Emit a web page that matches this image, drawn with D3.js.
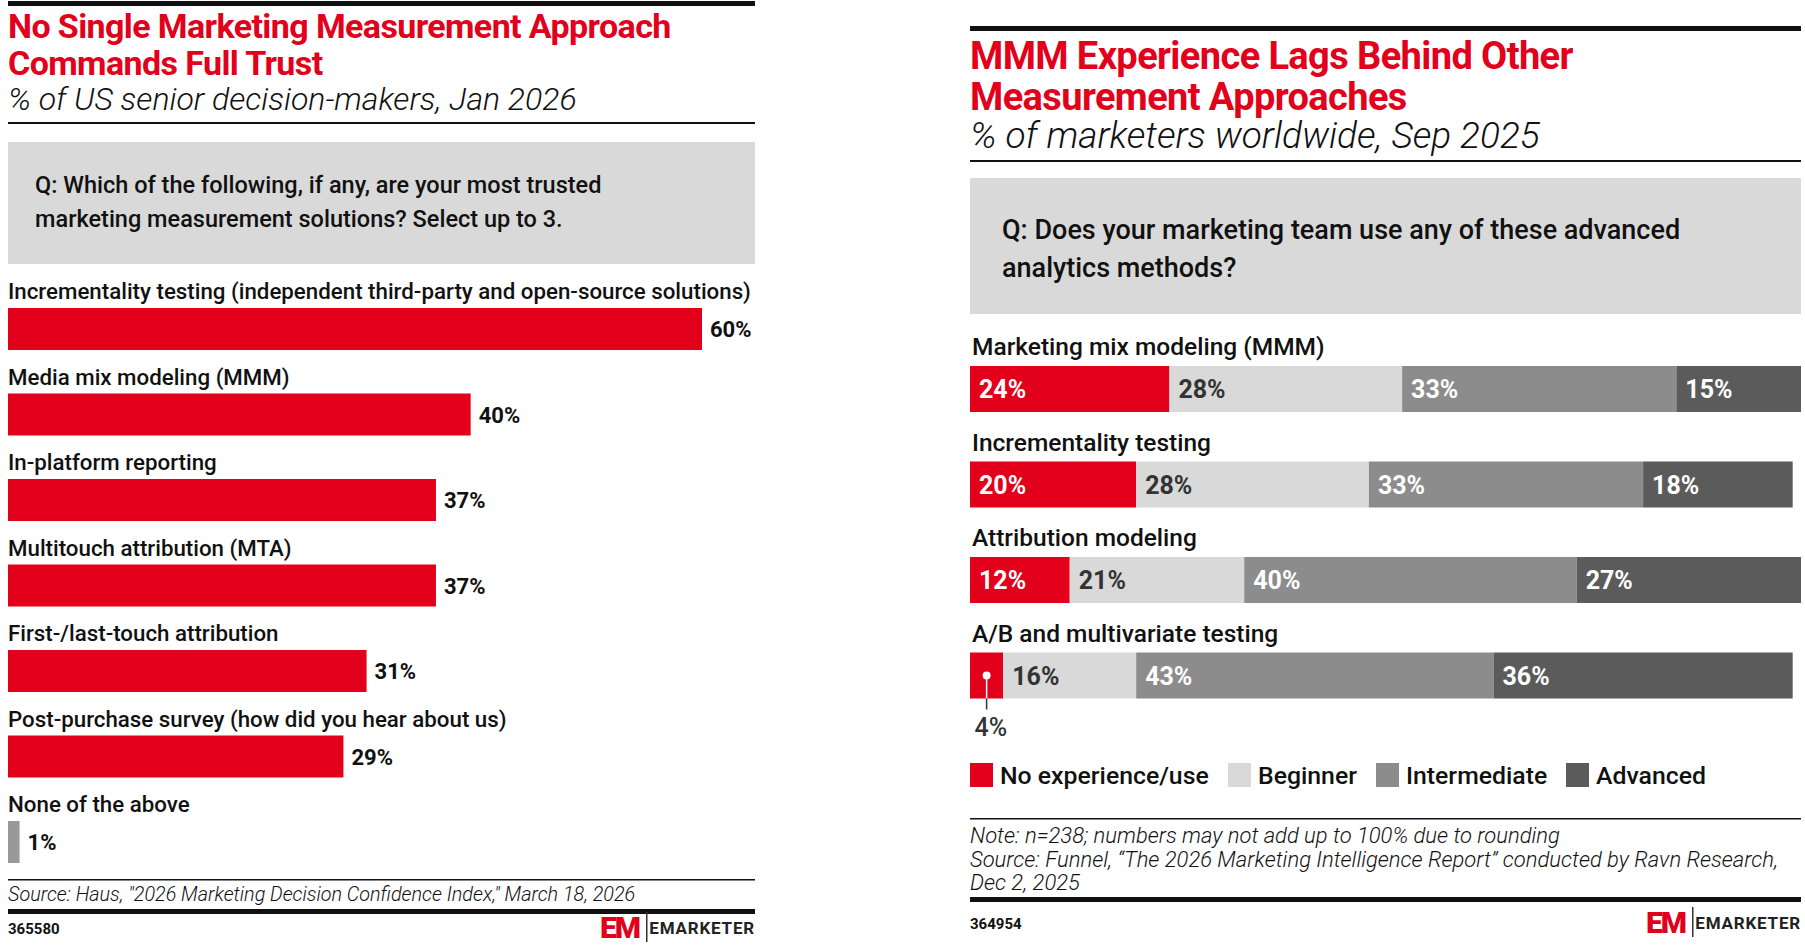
<!DOCTYPE html>
<html>
<head>
<meta charset="utf-8">
<script src="https://cdn.jsdelivr.net/npm/d3@7"></script>
<style>
  body { margin: 0; background: #fff; }
  text { font-family: Roboto, "Noto Sans", sans-serif; }
</style>
</head>
<body>
<svg id="chart" width="1805" height="947"></svg>
<script>
// left chart: most trusted measurement solutions
const trustCategories = [
  "Incrementality testing (independent third-party and open-source solutions)",
  "Media mix modeling (MMM)",
  "In-platform reporting",
  "Multitouch attribution (MTA)",
  "First-/last-touch attribution",
  "Post-purchase survey (how did you hear about us)",
  "None of the above"
]
const trustValues = [60, 40, 37, 37, 31, 29, 1]

// right chart: experience with advanced analytics methods
const methods = [
  "Marketing mix modeling (MMM)",
  "Incrementality testing",
  "Attribution modeling",
  "A/B and multivariate testing"
]
const levels = ["No experience/use", "Beginner", "Intermediate", "Advanced"]
const noExperience = [24, 20, 12, 4]
const beginner = [28, 28, 21, 16]
const intermediate = [33, 33, 40, 43]
const advanced = [15, 18, 27, 36]

var RED = "#e2001a"
var levelColors = ["#e2001a", "#d9d9d9", "#8c8c8c", "#5b5b5b"]
var levelText = ["#fff", "#333", "#fff", "#fff"]

var svg = d3.select("#chart")

// shared bits of the emarketer frame
function header(g, x0, x1, top, titleLines, titleSize, titleY, subtitle, subSize, subY) {
  g.append("rect").attr("x", x0).attr("y", top).attr("width", x1 - x0).attr("height", 5).attr("fill", "#111")
  titleLines.forEach(function(t, i) {
    g.append("text").attr("x", x0).attr("y", titleY[i])
      .attr("fill", RED).attr("font-size", titleSize).attr("font-weight", 700)
      .attr("letter-spacing", -0.6).text(t)
  })
  g.append("text").attr("x", x0).attr("y", subY)
    .attr("font-size", subSize).attr("font-style", "italic").attr("font-weight", 300)
    .attr("fill", "#111").text(subtitle)
}

function logo(g, xRight, y, id) {
  g.append("text").attr("x", xRight - 116).attr("y", y).attr("text-anchor", "end")
    .attr("font-size", 30).attr("font-weight", 900).attr("fill", RED).attr("letter-spacing", -2)
    .text("EM")
  g.append("rect").attr("x", xRight - 109).attr("y", y - 26).attr("width", 1.5).attr("height", 30).attr("fill", "#333")
  g.append("text").attr("x", xRight).attr("y", y - 4).attr("text-anchor", "end")
    .attr("font-size", 17).attr("font-weight", 700).attr("fill", "#222").attr("letter-spacing", 0.8)
    .text("EMARKETER")
  g.append("text").attr("x", id.x).attr("y", y - 4)
    .attr("font-size", 15).attr("font-weight", 700).attr("fill", "#111").text(id.text)
}

// ---------- left chart ----------
var left = svg.append("g")
var L0 = 8, L1 = 755

header(left, L0, L1, 1, ["No Single Marketing Measurement Approach", "Commands Full Trust"], 34, [38, 75],
  "% of US senior decision-makers, Jan 2026", 32, 110)
left.append("rect").attr("x", L0).attr("y", 122).attr("width", L1 - L0).attr("height", 2).attr("fill", "#111")
left.append("rect").attr("x", L0).attr("y", 142).attr("width", L1 - L0).attr("height", 122).attr("fill", "#d9d9d9")
left.append("text").attr("x", 35).attr("y", 193).attr("font-size", 23.5).attr("font-weight", 500).attr("fill", "#111")
  .text("Q: Which of the following, if any, are your most trusted")
left.append("text").attr("x", 35).attr("y", 227).attr("font-size", 23.5).attr("font-weight", 500).attr("fill", "#111")
  .text("marketing measurement solutions? Select up to 3.")

var xL = d3.scaleLinear().domain([0, 60]).range([L0, 702])
var yL = d3.scaleBand().domain(trustCategories).range([278, 278 + 7 * 85.5])

var rowsL = left.selectAll(".rowL").data(trustCategories).join("g").attr("class", "rowL")
rowsL.append("text").attr("x", L0).attr("y", function(d) { return yL(d) + 21 })
  .attr("font-size", 22.3).attr("font-weight", 500).attr("fill", "#111").text(function(d) { return d })
rowsL.append("rect").attr("x", xL(0)).attr("y", function(d) { return yL(d) + 30 })
  .attr("height", 42)
  .attr("width", function(d, i) { return xL(trustValues[i]) - xL(0) })
  .attr("fill", function(d, i) { return d == "None of the above" ? "#999" : RED })
rowsL.append("text").attr("x", function(d, i) { return xL(trustValues[i]) + 8 })
  .attr("y", function(d) { return yL(d) + 59 })
  .attr("font-size", 22).attr("font-weight", 700).attr("fill", "#111")
  .text(function(d, i) { return trustValues[i] + "%" })

left.append("rect").attr("x", L0).attr("y", 879).attr("width", L1 - L0).attr("height", 1.5).attr("fill", "#111")
left.append("text").attr("x", L0).attr("y", 901).attr("font-size", 19.8).attr("font-style", "italic").attr("font-weight", 300)
  .attr("fill", "#111").text("Source: Haus, \"2026 Marketing Decision Confidence Index,\" March 18, 2026")
left.append("rect").attr("x", L0).attr("y", 909).attr("width", L1 - L0).attr("height", 5).attr("fill", "#111")
logo(left, L1, 938, { x: L0, text: "365580" })

// ---------- right chart ----------
var right = svg.append("g")
var R0 = 970, R1 = 1801

header(right, R0, R1, 26, ["MMM Experience Lags Behind Other", "Measurement Approaches"], 38, [69, 110],
  "% of marketers worldwide, Sep 2025", 37, 148)
right.append("rect").attr("x", R0).attr("y", 160).attr("width", R1 - R0).attr("height", 2).attr("fill", "#111")
right.append("rect").attr("x", R0).attr("y", 178).attr("width", R1 - R0).attr("height", 136).attr("fill", "#d9d9d9")
right.append("text").attr("x", 1002).attr("y", 239).attr("font-size", 27).attr("font-weight", 500).attr("fill", "#111")
  .text("Q: Does your marketing team use any of these advanced")
right.append("text").attr("x", 1002).attr("y", 277).attr("font-size", 27).attr("font-weight", 500).attr("fill", "#111")
  .text("analytics methods?")

var table = methods.map(function(m, i) {
  return { method: m, "No experience/use": noExperience[i], "Beginner": beginner[i],
    "Intermediate": intermediate[i], "Advanced": advanced[i] }
})
var series = d3.stack().keys(levels)(table)

var xR = d3.scaleLinear().domain([0, 100]).range([R0, R1])
var yR = d3.scaleBand().domain(methods).range([334, 334 + 4 * 95.5])

right.selectAll(".mlabel").data(methods).join("text").attr("class", "mlabel")
  .attr("x", R0 + 2).attr("y", function(d) { return yR(d) + 21 })
  .attr("font-size", 24.5).attr("font-weight", 500).attr("fill", "#111").text(function(d) { return d })

var layer = right.selectAll(".layer").data(series).join("g").attr("class", "layer")
layer.selectAll("rect").data(function(s) { return s }).join("rect")
  .attr("x", function(d) { return xR(d[0]) })
  .attr("width", function(d) { return xR(d[1]) - xR(d[0]) })
  .attr("y", function(d) { return yR(d.data.method) + 32 })
  .attr("height", 46)
  .attr("fill", function(d, i, n) { return levelColors[levels.indexOf(d3.select(n[i].parentNode).datum().key)] })

layer.each(function(s, k) {
  var g = d3.select(this)
  s.forEach(function(d) {
    var v = d[1] - d[0]
    var cy = yR(d.data.method) + 32 + 23
    if (v < 8) {
      // too small for an inside label: pin it below the bar
      var cx = (xR(d[0]) + xR(d[1])) / 2
      var bottom = yR(d.data.method) + 32 + 46
      g.append("line").attr("x1", cx).attr("x2", cx).attr("y1", cy).attr("y2", bottom)
        .attr("stroke", "#fff").attr("stroke-width", 1.5)
      g.append("line").attr("x1", cx).attr("x2", cx).attr("y1", bottom).attr("y2", bottom + 11)
        .attr("stroke", "#333").attr("stroke-width", 1.5)
      g.append("circle").attr("cx", cx).attr("cy", cy).attr("r", 4).attr("fill", "#fff")
      g.append("text").attr("x", cx - 12).attr("y", bottom + 37)
        .attr("font-size", 25).attr("font-weight", 500).attr("fill", "#333").text(v + "%")
    } else {
      g.append("text").attr("x", xR(d[0]) + 9).attr("y", cy + 9)
        .attr("font-size", 25).attr("font-weight", 700).attr("fill", levelText[k]).text(v + "%")
    }
  })
})

// legend
var legendX = [970, 1228, 1376, 1566]
var legend = right.selectAll(".leg").data(levels).join("g").attr("class", "leg")
  .attr("transform", function(d, i) { return "translate(" + legendX[i] + ",763)" })
legend.append("rect").attr("width", 23).attr("height", 24).attr("fill", function(d, i) { return levelColors[i] })
legend.append("text").attr("x", 30).attr("y", 21).attr("font-size", 24.8).attr("font-weight", 500)
  .attr("fill", "#111").text(function(d) { return d })

right.append("rect").attr("x", R0).attr("y", 818).attr("width", R1 - R0).attr("height", 1.5).attr("fill", "#111")
var notes = [
  "Note: n=238; numbers may not add up to 100% due to rounding",
  "Source: Funnel, \u201cThe 2026 Marketing Intelligence Report\u201d conducted by Ravn Research,",
  "Dec 2, 2025"
]
right.selectAll(".note").data(notes).join("text").attr("class", "note")
  .attr("x", R0).attr("y", function(d, i) { return 843 + i * 23.5 })
  .attr("font-size", 22).attr("font-style", "italic").attr("font-weight", 300).attr("fill", "#111")
  .text(function(d) { return d })
right.append("rect").attr("x", R0).attr("y", 897).attr("width", R1 - R0).attr("height", 5).attr("fill", "#111")
logo(right, R1, 933, { x: R0, text: "364954" })
</script>
</body>
</html>
